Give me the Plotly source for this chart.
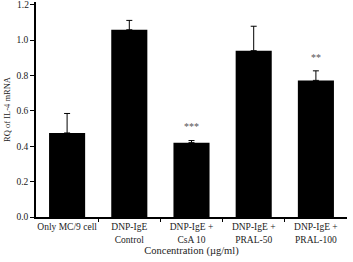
import plotly.graph_objects as go

categories = ["Only MC/9 cell", "DNP-IgE<br>Control", "DNP-IgE +<br>CsA 10", "DNP-IgE +<br>PRAL-50", "DNP-IgE +<br>PRAL-100"]
values = [0.475, 1.058, 0.42, 0.94, 0.772]
errors = [0.11, 0.053, 0.012, 0.138, 0.054]
stars = ["", "", "***", "", "**"]
y_ticks = [0.0, 0.2, 0.4, 0.6, 0.8, 1.0, 1.2]

xs = list(range(1, len(categories) + 1))
font = "Liberation Serif"

fig = go.Figure()
fig.add_trace(go.Bar(
    x=xs, y=values, width=0.58,
    marker=dict(color="black", line=dict(width=0)),
    error_y=dict(type="data", array=errors, arrayminus=[0] * len(errors),
                 symmetric=False, color="black", thickness=1, width=3),
    showlegend=False,
))
fig.add_trace(go.Scatter(x=[0.5, 5.5], y=[0, 0], mode="markers",
                         marker=dict(opacity=0), xaxis="x2", showlegend=False,
                         hoverinfo="skip"))

for x, v, e, s in zip(xs, values, errors, stars):
    if s:
        fig.add_annotation(x=x, y=v + e + 0.035, text=s, showarrow=False,
                           font=dict(family=font, size=10, color="#555"),
                           yanchor="bottom")

# top tick label (plotly hides it at the very edge of the page)
top = y_ticks[-1]
fig.add_annotation(x=0, xref="paper", xanchor="right", xshift=-5,
                   y=top, yref="y", yanchor="middle", text=f"{top:.1f}",
                   showarrow=False, font=dict(family=font, size=9.5, color="#222"))

fig.update_layout(
    width=353, height=262,
    margin=dict(l=36, r=6, t=2, b=45, autoexpand=False),
    plot_bgcolor="white", paper_bgcolor="white",
    font=dict(family=font, size=9.5, color="#222"),
    xaxis=dict(range=[0.5, 5.5], tickvals=xs, ticktext=categories,
               showline=True, linecolor="black", linewidth=1.5,
               ticks="", showgrid=False, zeroline=False,
               tickfont=dict(family=font, size=9.5, color="#222"),
               title=dict(text="Concentration (µg/ml)", standoff=3,
                          font=dict(family=font, size=10.5, color="#222"))),
    xaxis2=dict(range=[0.5, 5.5], overlaying="x", anchor="y",
                tickvals=[1.5, 2.5, 3.5, 4.5], showticklabels=False,
                ticks="outside", ticklen=4, tickwidth=1.2, tickcolor="black",
                showgrid=False, zeroline=False, showline=False, side="bottom"),
    yaxis=dict(range=[0, 1.215], tickvals=y_ticks,
               ticktext=[f"{t:.1f}" for t in y_ticks[:-1]] + [""],
               showline=True, linecolor="black", linewidth=1.5,
               ticks="outside", ticklen=4, tickwidth=1.2, tickcolor="black",
               showgrid=False, zeroline=False,
               tickfont=dict(family=font, size=9.5, color="#222"),
               title=dict(text="RQ of IL-4 mRNA", standoff=4,
                          font=dict(family=font, size=8.5, color="#222"))),
)

fig.write_html("out.html")
